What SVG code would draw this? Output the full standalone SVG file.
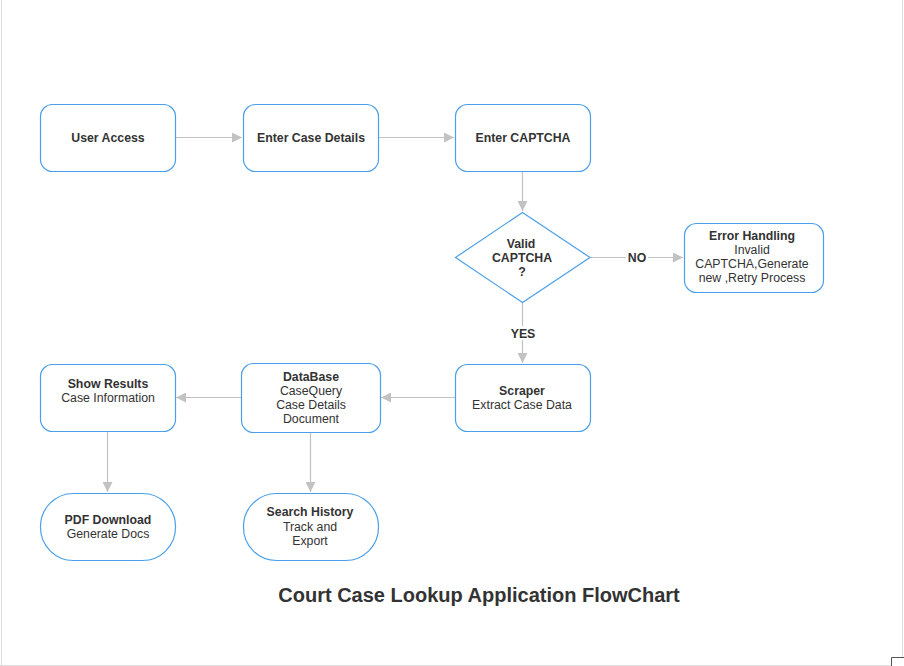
<svg xmlns="http://www.w3.org/2000/svg" width="904" height="666" viewBox="0 0 904 666">
<style>
.n{fill:#fff;stroke:#4a9fe8;stroke-width:1.2}
.c{stroke:#c2c2c2;stroke-width:1.2;fill:none}
text{font-family:"Liberation Sans",Arial,sans-serif;font-size:12.3px;fill:#333;text-anchor:middle}
.b{font-weight:bold}
.t{font-weight:bold;font-size:20px}
</style>
<defs>
<marker id="a" viewBox="0 0 10 10" refX="10" refY="5" markerWidth="10" markerHeight="10" markerUnits="userSpaceOnUse" orient="auto">
<path d="M0,0L10,5L0,10z" fill="#c2c2c2"/>
</marker>
</defs>
<rect width="904" height="666" fill="#fff"/>
<line x1="1.5" y1="0" x2="1.5" y2="666" stroke="#ddd"/>
<line x1="902.5" y1="0" x2="902.5" y2="658" stroke="#ddd"/>
<line x1="0" y1="665.5" x2="891" y2="665.5" stroke="#ddd"/>
<path d="M891.5,666V657.5H904" stroke="#555" fill="none"/>
<g id="connectors">
<line class="c" x1="175" y1="137.5" x2="242" y2="137.5" marker-end="url(#a)"/>
<line class="c" x1="378" y1="137.5" x2="454" y2="137.5" marker-end="url(#a)"/>
<line class="c" x1="522.5" y1="171" x2="522.5" y2="211" marker-end="url(#a)"/>
<line class="c" x1="590" y1="257.5" x2="683" y2="257.5" marker-end="url(#a)"/>
<line class="c" x1="522.5" y1="302" x2="522.5" y2="363" marker-end="url(#a)"/>
<line class="c" x1="455" y1="397.5" x2="381" y2="397.5" marker-end="url(#a)"/>
<line class="c" x1="241" y1="397.5" x2="176" y2="397.5" marker-end="url(#a)"/>
<line class="c" x1="107.5" y1="431" x2="107.5" y2="492" marker-end="url(#a)"/>
<line class="c" x1="310.5" y1="432" x2="310.5" y2="492" marker-end="url(#a)"/>
<rect x="626" y="250" width="22" height="14" fill="#fff"/>
<text class="b" x="637" y="262">NO</text>
<rect x="508" y="326" width="30" height="14" fill="#fff"/>
<text class="b" x="523" y="338">YES</text>
</g>
<g id="user-access"><rect class="n" x="40.5" y="104.5" width="135" height="67" rx="12"/><text class="b" x="108" y="142">User Access</text></g>
<g id="enter-case-details"><rect class="n" x="243.5" y="104.5" width="135" height="67" rx="12"/><text class="b" x="311" y="142">Enter Case Details</text></g>
<g id="enter-captcha"><rect class="n" x="455.5" y="104.5" width="135" height="67" rx="12"/><text class="b" x="523" y="142">Enter CAPTCHA</text></g>
<g id="valid-captcha"><path class="n" d="M522.5,212.5L590,257.5L522.5,302.5L455.5,257.5Z"/><text class="b" x="521" y="248">Valid</text><text class="b" x="522" y="262">CAPTCHA</text><text class="b" x="522" y="276">?</text></g>
<g id="error-handling"><rect class="n" x="684.5" y="223.5" width="139" height="69" rx="12"/><text class="b" x="752" y="240">Error Handling</text><text x="752" y="254">Invalid</text><text x="752" y="268">CAPTCHA,Generate</text><text x="752" y="282">new ,Retry Process</text></g>
<g id="scraper"><rect class="n" x="455.5" y="364.5" width="135" height="67" rx="12"/><text class="b" x="522" y="395">Scraper</text><text x="522" y="409">Extract Case Data</text></g>
<g id="database"><rect class="n" x="241.5" y="363.5" width="139" height="69" rx="12"/><text class="b" x="311" y="381">DataBase</text><text x="311" y="395">CaseQuery</text><text x="311" y="409">Case Details</text><text x="311" y="423">Document</text></g>
<g id="show-results"><rect class="n" x="40.5" y="364.5" width="135" height="67" rx="12"/><text class="b" x="108" y="388">Show Results</text><text x="108" y="402">Case Information</text></g>
<g id="pdf-download"><rect class="n" x="40.5" y="493.5" width="135" height="67" rx="33"/><text class="b" x="108" y="524">PDF Download</text><text x="108" y="538">Generate Docs</text></g>
<g id="search-history"><rect class="n" x="243.5" y="493.5" width="135" height="67" rx="33"/><text class="b" x="310" y="516">Search History</text><text x="310" y="531">Track and</text><text x="310" y="545">Export</text></g>
<text class="t" x="479" y="602">Court Case Lookup Application FlowChart</text>
</svg>
